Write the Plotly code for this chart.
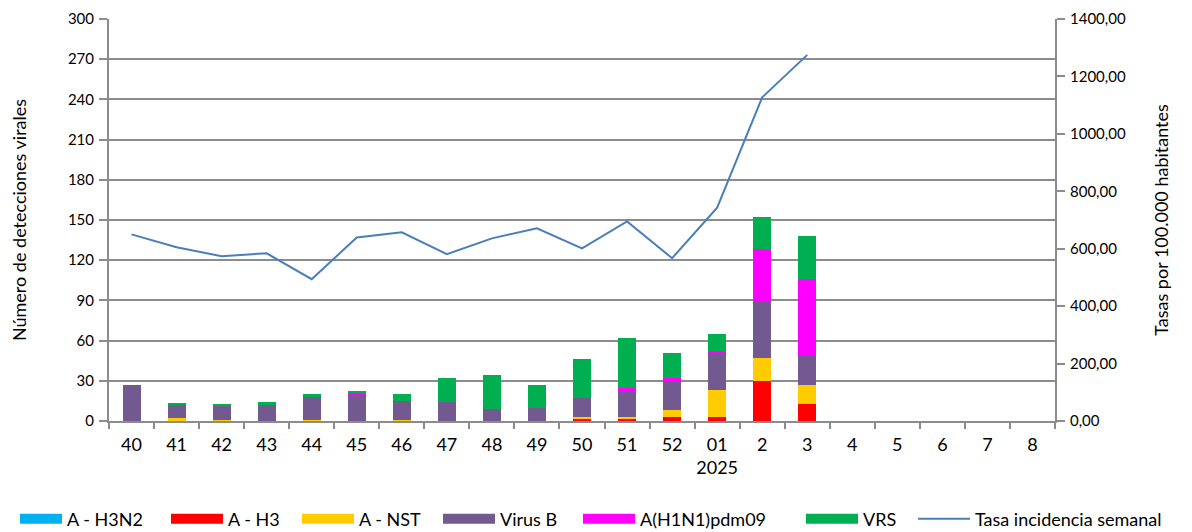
import plotly.graph_objects as go

weeks = ["40","41","42","43","44","45","46","47","48","49","50","51","52","01","2","3","4","5","6","7","8"]
week_labels = ["40","41","42","43","44","45","46","47","48","49","50","51","52","01<br>2025","2","3","4","5","6","7","8"]

a_h3n2 = [0,0,0,0,0,0,0,0,0,0,0,0,0,0,0,0,0,0,0,0,0]
a_h3   = [0,0,0,0,0,0,0,0,0,0,2,2,3,3,30,13,0,0,0,0,0]
a_nst  = [0,2,1,0,1,0,1,0,0,0,1,1,5,20,17,14,0,0,0,0,0]
virus_b= [27,10,10,12,17,20,14,14,9,10,14,19,22,28,42,22,0,0,0,0,0]
h1n1   = [0,0,0,0,0,1,0,0,0,0,0,3,2,1,39,57,0,0,0,0,0]
vrs    = [0,1,2,2,2,1,5,18,25,17,29,37,19,13,24,32,0,0,0,0,0]
tasa   = [650,605,574,584,494,639,657,581,636,671,601,695,567,743,1127,1275,None,None,None,None,None]

FONT = "Lato"
# the page body has an 8px margin, so the figure is drawn 8px right and down
OFF = 8
W, H = 1184, 560
L_MARGIN, R_MARGIN, T_MARGIN = 101, 137, 11
PLOT_W = W - L_MARGIN - R_MARGIN      # 946
PLOT_H = 402
B_MARGIN = H - T_MARGIN - PLOT_H
PAD = min(12, L_MARGIN, R_MARGIN, T_MARGIN, B_MARGIN)   # plotly auto-margin pad

series = [("A - H3N2", a_h3n2, "#00B0F0"),
          ("A - H3", a_h3, "#FF0000"),
          ("A - NST", a_nst, "#FFCC00"),
          ("Virus B", virus_b, "#725A91"),
          ("A(H1N1)pdm09", h1n1, "#FF00FF"),
          ("VRS", vrs, "#00B050")]
# screen x where each legend entry's swatch starts
legend_px = [13, 170, 301, 442, 582, 805, 917]
legend_ids = ["legend"] + ["legend%d" % i for i in range(2, 8)]
SWATCH_OFFSET = 4

fig = go.Figure()
for i, (name, vals, col) in enumerate(series):
    fig.add_trace(go.Bar(x=weeks, y=vals, name=name, marker=dict(color=col, line=dict(width=0)),
                         showlegend=False, legendgroup=name))
    fig.add_trace(go.Scatter(x=[None], y=[None], mode="lines", name=name, legendgroup=name,
                             legend=legend_ids[i],
                             line=dict(color=col, width=14), showlegend=True))

fig.add_trace(go.Scatter(x=weeks, y=tasa, mode="lines", name="Tasa incidencia semanal",
                         legend=legend_ids[6],
                         line=dict(color="#4A7EBB", width=2), yaxis="y2"))

grid = "#8C8C8C"
legend_center_fig = 519 - OFF
legend_y = -(legend_center_fig - (T_MARGIN + PLOT_H)) / PLOT_H
legends = {}
for lid, px in zip(legend_ids, legend_px):
    fx = px - SWATCH_OFFSET - OFF
    indent = 0
    if fx < PAD + 1:
        # keep the legend inside the margin and pull the entry left instead
        fx = PAD + 1
        indent = -15
    legends[lid] = dict(orientation="h", x=(fx - L_MARGIN) / PLOT_W, xanchor="left",
                        y=legend_y, yanchor="middle", indentation=indent,
                        font=dict(size=18, family=FONT), itemwidth=52,
                        bgcolor="rgba(0,0,0,0)", borderwidth=0)

fig.update_layout(
    width=W, height=H,
    margin=dict(l=L_MARGIN, r=R_MARGIN, t=T_MARGIN, b=B_MARGIN),
    paper_bgcolor="white", plot_bgcolor="white",
    barmode="stack", bargap=0.6,
    separators=",.",
    font=dict(family=FONT, color="#000000"),
    xaxis=dict(type="category", tickvals=weeks, ticktext=week_labels, tickangle=0,
               tickfont=dict(size=18), ticks="outside", tickson="boundaries",
               ticklen=6, tickcolor=grid, tickwidth=2, ticklabelstandoff=6,
               showline=True, linecolor=grid, linewidth=2, showgrid=False,
               automargin=False),
    yaxis=dict(range=[0, 300], dtick=30, tickfont=dict(size=15),
               showgrid=True, gridcolor=grid, gridwidth=2,
               showline=True, linecolor=grid, linewidth=2,
               ticks="outside", ticklen=8, tickcolor=grid, tickwidth=2, ticklabelstandoff=2,
               ticklabeloverflow="allow",
               zeroline=False, automargin=False,
               title=dict(text="Número de detecciones virales", font=dict(size=18), standoff=43)),
    yaxis2=dict(range=[0, 1400], dtick=200, overlaying="y", side="right",
                tickformat=".2f", tickfont=dict(size=15),
                showgrid=False, showline=True, linecolor=grid, linewidth=2,
                ticks="outside", ticklen=8, tickcolor=grid, tickwidth=2, ticklabelstandoff=2,
                ticklabeloverflow="allow",
                zeroline=False, automargin=False,
                title=dict(text="Tasas por 100.000 habitantes", font=dict(size=18), standoff=30)),
    **legends,
)

fig.write_html("out.html")
